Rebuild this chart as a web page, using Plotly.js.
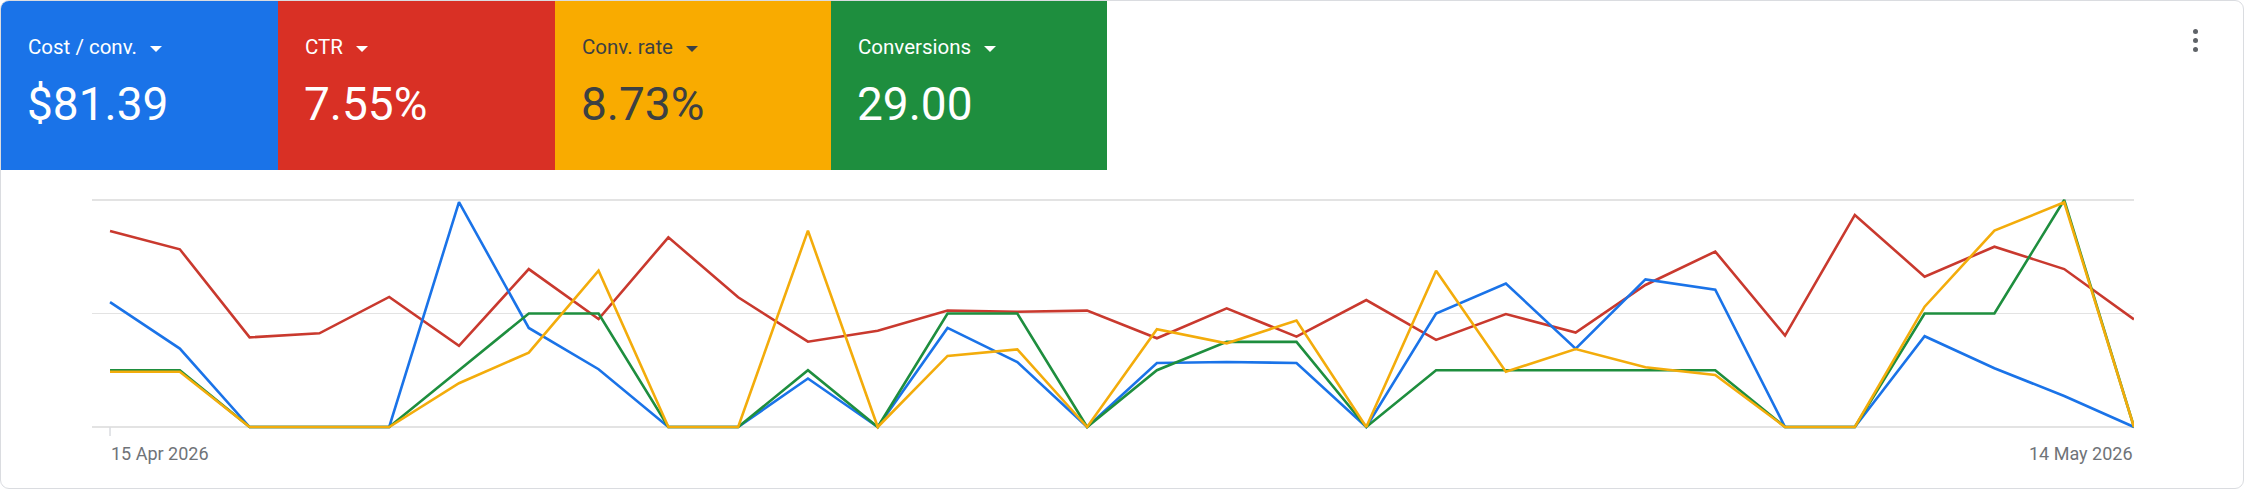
<!DOCTYPE html>
<html>
<head>
<meta charset="utf-8">
<script src="https://cdn.plot.ly/plotly-3.0.1.min.js"></script>
<style>
html,body{margin:0;padding:0;background:#fff;}
body{width:2246px;height:490px;position:relative;overflow:hidden;font-family:Roboto,"Noto Sans",Arial,sans-serif;}
#card{position:absolute;left:0;top:0;width:2244px;height:489px;box-sizing:border-box;border:1px solid #dadce0;border-radius:9px;overflow:hidden;}
#chart{position:absolute;left:0;top:0;width:2246px;height:490px;}
#tiles{position:absolute;left:0;top:0;height:169px;display:flex;}
.tile{position:relative;height:169px;}
.lab{position:absolute;left:27px;top:36px;font-size:20.5px;line-height:20px;white-space:nowrap;}
.arrow{display:inline-block;width:0;height:0;border-left:6px solid transparent;border-right:6px solid transparent;border-top:6px solid currentColor;margin-left:13px;vertical-align:middle;}
.val{position:absolute;left:26px;top:80px;font-size:46px;line-height:46px;white-space:nowrap;}
#menu{position:absolute;left:2193px;top:29px;width:6px;}
#menu span{display:block;width:5px;height:5px;border-radius:50%;background:#5f6368;margin-bottom:4px;}
</style>
</head>
<body>
<div id="card">
  <div id="tiles"></div>
</div>
<div id="chart"></div>
<div id="menu"><span></span><span></span><span></span></div>
<script>
// ---- data ----
const dates = ['2026-04-15','2026-04-16','2026-04-17','2026-04-18','2026-04-19','2026-04-20','2026-04-21','2026-04-22','2026-04-23','2026-04-24',
               '2026-04-25','2026-04-26','2026-04-27','2026-04-28','2026-04-29','2026-04-30','2026-05-01','2026-05-02','2026-05-03','2026-05-04',
               '2026-05-05','2026-05-06','2026-05-07','2026-05-08','2026-05-09','2026-05-10','2026-05-11','2026-05-12','2026-05-13','2026-05-14'];
const costPerConv = [121, 76, 0, 0, 0, 218, 96, 56, 0, 0, 47, 0, 96, 63, 0, 62, 63, 62, 0, 110, 139, 76, 143, 133, 0, 0, 88, 57, 30, 0];
const ctr = [12.09, 10.96, 5.53, 5.78, 8.02, 5.01, 9.74, 6.66, 11.70, 8.00, 5.26, 5.94, 7.18, 7.11, 7.18, 5.47, 7.32, 5.57, 7.83, 5.37, 6.97, 5.82, 8.76, 10.82, 5.64, 13.08, 9.27, 11.12, 9.74, 6.64];
const convRate = [7.3, 7.3, 0, 0, 0, 5.78, 9.83, 20.66, 0, 0, 25.95, 0, 9.39, 10.26, 0, 12.92, 11.06, 14.06, 0, 20.66, 7.3, 10.3, 7.89, 6.87, 0, 0, 15.9, 25.95, 29.7, 0];
const conversions = [1, 1, 0, 0, 0, 1, 2, 2, 0, 0, 1, 0, 2, 2, 0, 1, 1.5, 1.5, 0, 1, 1, 1, 1, 1, 0, 0, 2, 2, 4, 0];

const metricNames = ['Cost / conv.', 'CTR', 'Conv. rate', 'Conversions'];
const metricTotals = ['$81.39', '7.55%', '8.73%', '29.00'];
const axisMax = [220, 14, 30, 4];      // value at the top gridline of each metric's own scale
const xLabels = ['15 Apr 2026', '14 May 2026'];

// ---- styles ----
const tileColors = ['#1a73e8', '#d93025', '#f9ab00', '#1e8e3e'];
const tileText = ['#ffffff', '#ffffff', '#3c4043', '#ffffff'];
const tileWidths = [277, 277, 276, 276];
const lineColors = ['#1a73e8', '#c9392e', '#f3ac0b', '#1e8e3e'];

// tiles
const tiles = document.getElementById('tiles');
metricNames.forEach((n, i) => {
  const t = document.createElement('div');
  t.className = 'tile';
  t.style.width = tileWidths[i] + 'px';
  t.style.background = tileColors[i];
  t.style.color = tileText[i];
  t.innerHTML = '<div class="lab">' + n + '<span class="arrow"></span></div><div class="val">' + metricTotals[i] + '</div>';
  tiles.appendChild(t);
});

// chart
const lo = -13 / 227, hi = 1 + 12 / 227;
const rng = m => [lo * m, hi * m];
const series = [costPerConv, ctr, convRate, conversions];
// stacking order (bottom -> top): CTR, Cost / conv., Conversions, Conv. rate
const drawOrder = [1, 0, 3, 2];
const axisIds = ['y', 'y2', 'y3', 'y4'];
const axisNames = ['yaxis', 'yaxis2', 'yaxis3', 'yaxis4'];

const traces = drawOrder.map((i, k) => ({
  x: dates, y: series[i], type: 'scatter', mode: 'lines',
  name: metricNames[i], yaxis: axisIds[k],
  line: {color: lineColors[i], width: 2.6}
}));

const layout = {
  width: 2246, height: 490,
  margin: {l: 92, r: 112, t: 188, b: 50},
  paper_bgcolor: 'rgba(0,0,0,0)', plot_bgcolor: 'rgba(0,0,0,0)',
  showlegend: false,
  font: {family: 'Roboto, "Noto Sans", Arial, sans-serif'},
  xaxis: {
    type: 'date', range: ['2026-04-14 17:48:00', '2026-05-14 00:00:00'],
    showgrid: false, zeroline: false, showline: false, showticklabels: false, ticks: ''
  },
  annotations: [
    {text: xLabels[0], x: dates[0], xref: 'x', y: 0, yref: 'paper', xanchor: 'left', yanchor: 'top',
     showarrow: false, xshift: -1, yshift: -1, font: {size: 18, color: '#6f7378'}},
    {text: xLabels[1], x: dates[dates.length - 1], xref: 'x', y: 0, yref: 'paper', xanchor: 'right', yanchor: 'top',
     showarrow: false, xshift: 1, yshift: -1, font: {size: 18, color: '#6f7378'}}
  ],
  shapes: [
    {type: 'line', xref: 'x', yref: 'paper', x0: dates[0], x1: dates[0], y0: 13 / 252, y1: 4 / 252,
     line: {color: '#dadce0', width: 1.5}}
  ]
};
drawOrder.forEach((i, k) => {
  const m = axisMax[i];
  if (k === 0) {
    // base axis carries the three horizontal gridlines
    layout[axisNames[k]] = {range: rng(m), tickvals: [0, m / 2, m], showticklabels: false, showgrid: true,
      gridcolor: '#e3e3e3', gridwidth: 1.6, zeroline: false, showline: false, ticks: '', fixedrange: true};
  } else {
    layout[axisNames[k]] = {overlaying: 'y', range: rng(m), visible: false, fixedrange: true};
  }
});

Plotly.newPlot('chart', traces, layout, {staticPlot: true, displayModeBar: false});
</script>
</body>
</html>
